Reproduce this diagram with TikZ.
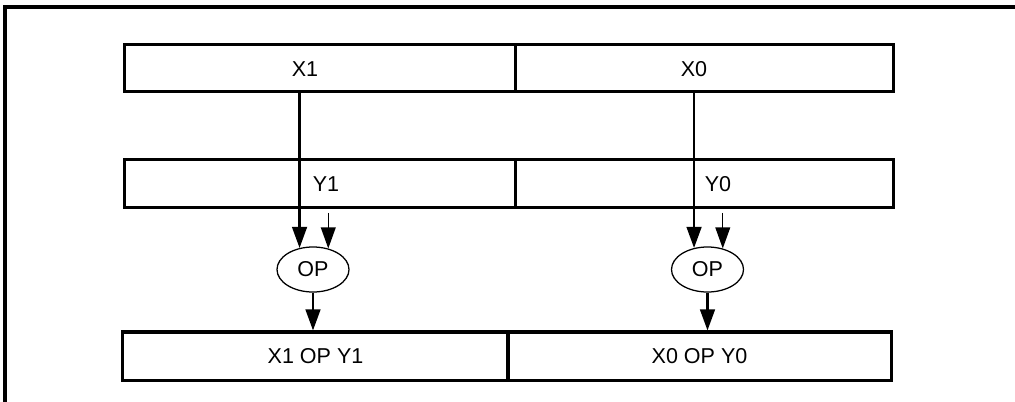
\documentclass[tikz,border=0pt]{standalone}
\usepackage{fontspec}
\setmainfont{Liberation Sans}
\usetikzlibrary{arrows.meta, shapes.geometric}

\tikzset{
    cell/.style={draw, line width=2.2pt, inner sep=0pt, minimum height=1.18cm},
    opnode/.style={draw, ellipse, line width=0.9pt, inner sep=0pt,
        minimum width=1.8cm, minimum height=1.125cm},
    feed/.style={->, line width=1.6pt},
    thinfeed/.style={->, line width=1pt}
}

\begin{document}
\begin{tikzpicture}[x=0.025cm, y=-0.025cm, >={Triangle[length=15pt,width=10.5pt]},
    font=\fontsize{15.3}{18}\selectfont]
    \useasboundingbox (0,0) rectangle (1015,402);

    % 1. Outer frame (runs past the page)
    \draw[line width=2.2pt] (1200,7) -- (5,7) -- (5,600);

    % 2. Register rows
    \node[cell, minimum width=9.7625cm] (x1) at (320.25,68.25) {};
    \node[cell, minimum width=9.4375cm] (x0) at (704.25,68.25) {};
    \node[cell, minimum width=9.7625cm] (y1) at (320.25,183.5) {};
    \node[cell, minimum width=9.4375cm] (y0) at (704.25,183.5) {};
    \node[cell, minimum width=9.625cm, minimum height=1.2125cm] (r1) at (315.5,356.25) {X1 OP Y1};
    \node[cell, minimum width=9.575cm, minimum height=1.2125cm] (r0) at (699.5,356.25) {X0 OP Y0};

    % 3. Element names
    \node (x1lbl) at (305,69) {X1};
    \node (x0lbl) at (694,69) {X0};
    \node (y1lbl) at (326,184) {Y1};
    \node (y0lbl) at (718,184) {Y0};

    % 4. Operations
    \node[opnode] (op1) at (313,269.5) {OP};
    \node[opnode] (op0) at (707.5,269.5) {OP};

    % 5. Data flow
    \foreach \i in {1,0} {
        \draw[feed] (x\i.south -| op\i.122) -- (op\i.122);
        \draw[thinfeed, shorten <=3pt] (y\i.south -| op\i.54) -- (op\i.54);
        \draw[feed] (op\i.south) -- (op\i.south |- r\i.north);
    }
\end{tikzpicture}
\end{document}
